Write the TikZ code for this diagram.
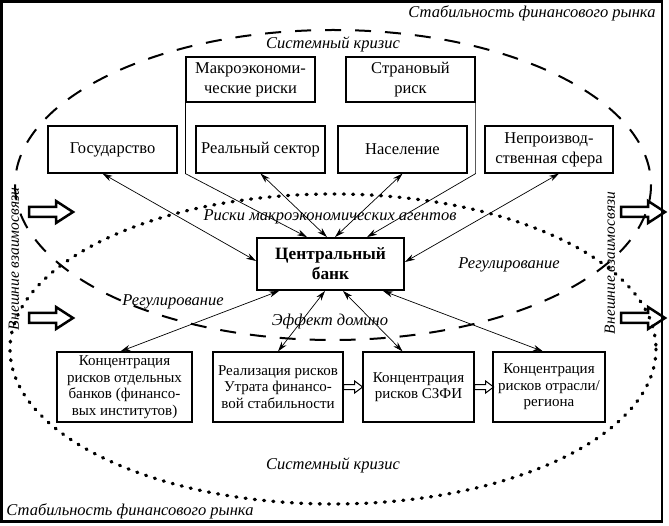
\documentclass[tikz,border=0pt]{standalone}
\usepackage{fontspec}
\setmainfont{Liberation Serif}
\usetikzlibrary{arrows.meta,calc}
\tikzset{
  box/.style={draw,line width=1.2pt,align=center,inner sep=1pt,font=\fontsize{16.5}{20}\selectfont},
  lowbox/.style={box,minimum height=70pt,font=\fontsize{15}{16.5}\selectfont},
  lbl/.style={font=\fontsize{16.5}{18}\selectfont\itshape},
  arr/.style={-{Stealth[length=10pt,width=6pt]},line width=.7pt},
  darr/.style={{Stealth[length=10pt,width=6pt]}-{Stealth[length=10pt,width=6pt]},line width=.7pt},
  bigarr/.pic={\draw[line width=2.5pt] (0,-5) -- (27,-5) -- (27,-11) -- (44,0) -- (27,11) -- (27,5) -- (0,5) -- cycle;},
  smallarr/.pic={\draw[line width=1pt] (0,-2.5) -- (11,-2.5) -- (11,-6) -- (19,0) -- (11,6) -- (11,2.5) -- (0,2.5) -- cycle;}
}
\begin{document}
\begin{tikzpicture}[x=1pt,y=-1pt]
  \useasboundingbox (0,0) rectangle (669,526);
  \draw[line width=2.5pt] (1.5,1.5) rectangle (662,521.5);
  \draw[line width=2pt,dash pattern=on 16pt off 14pt] (333,185) ellipse [x radius=318,y radius=155];
  \draw[line width=3.3pt,line cap=round,dash pattern=on 1pt off 8.3pt] (333,349) ellipse [x radius=323,y radius=155];

  \node[lbl] (stab1) at (532,13) {Стабильность финансового рынка};
  \node[lbl] (stab2) at (130,511) {Стабильность финансового рынка};
  \node[lbl] (sk1) at (333,44) {Системный кризис};
  \node[lbl] (sk2) at (333,465) {Системный кризис};
  \node[lbl,rotate=90,font=\fontsize{15.5}{18}\selectfont\itshape] (ext1) at (14,259) {Внешние взаимосвязи};
  \node[lbl,rotate=90,font=\fontsize{15.5}{18}\selectfont\itshape] (ext2) at (610,263) {Внешние взаимосвязи};
  \node[lbl] (risk) at (330,217) {Риски макроэкономических агентов};
  \node[lbl] (reg1) at (173,302) {Регулирование};
  \node[lbl] (reg2) at (509,265) {Регулирование};
  \node[lbl] (dom) at (330,322) {Эффект домино};

  \foreach \x/\y in {29/212,29/318,621/212,621/318}
    \pic at (\x,\y) {bigarr};

  \node[box,minimum width=129pt,minimum height=45pt] (mac) at (250.5,79.5) {Макроэкономи-\\ческие риски};
  \node[box,minimum width=129pt,minimum height=45pt] (str) at (410.5,79.5) {Страновый\\риск};
  \node[box,minimum width=129pt,minimum height=47pt] (gov) at (112.5,149.5) {Государство};
  \node[box,minimum width=129pt,minimum height=47pt] (real) at (260.5,149.5) {Реальный сектор};
  \node[box,minimum width=129pt,minimum height=47pt] (nas) at (402.5,149.5) {Население};
  \node[box,minimum width=128pt,minimum height=47pt] (nepr) at (549,149.5) {Непроизвод-\\ственная сфера};
  \node[box,line width=1.8pt,minimum width=147pt,minimum height=52pt,font=\fontsize{17.3}{20}\selectfont\bfseries] (cb) at (330.5,264) {Центральный\\банк};
  \node[lowbox,minimum width=135pt] (b1) at (124.5,387) {Концентрация\\рисков отдельных\\банков (финансо-\\вых институтов)};
  \node[lowbox,minimum width=130pt] (b2) at (278,387) {Реализация рисков\\Утрата финансо-\\вой стабильности};
  \node[lowbox,minimum width=111pt] (b3) at (418.5,387) {Концентрация\\рисков СЗФИ};
  \node[lowbox,minimum width=112pt] (b4) at (549,387) {Концентрация\\рисков отрасли/\\региона};

  \draw[arr] (mac.south west) -- (mac.south west |- gov.south) -- ($(cb.north)+(-23.5,0)$);
  \draw[arr] (str.south east) -- (str.south east |- nas.south) -- ($(cb.north)+(36.5,0)$);
  \draw[darr] ($(gov.south)+(-10,0)$) -- ($(cb.west)+(0,-3)$);
  \draw[darr] (real.south) -- ($(cb.north)+(-3.5,0)$);
  \draw[darr] (nas.south) -- ($(cb.north)+(4.5,0)$);
  \draw[darr] ($(nepr.south)+(10,0)$) -- ($(cb.east)+(0,-2)$);
  \draw[darr] ($(cb.south west)+(23,0)$) -- ($(b1.north)+(-4,0)$);
  \draw[darr] ($(cb.south)+(-5.5,0)$) -- (b2.north);
  \draw[darr] ($(cb.south)+(12.5,0)$) -- ($(b3.north)+(-16,0)$);
  \draw[darr] ($(cb.south)+(52.5,0)$) -- ($(b4.north)+(-6,0)$);

  \pic at (b2.east) {smallarr};
  \pic at (b3.east) {smallarr};
\end{tikzpicture}
\end{document}
